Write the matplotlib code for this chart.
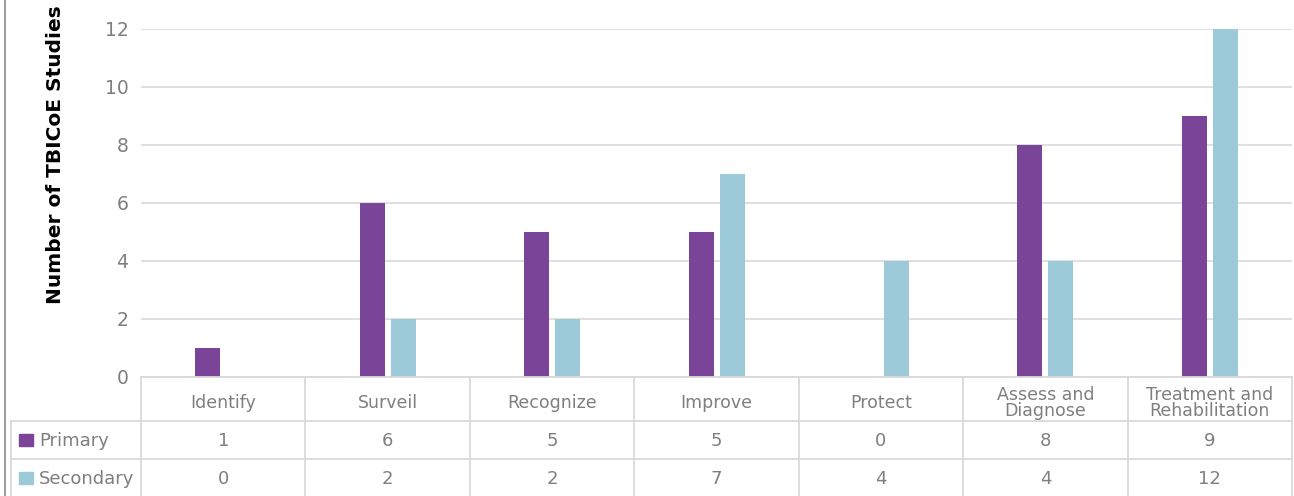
import matplotlib
matplotlib.use("Agg")
import matplotlib.pyplot as plt
from matplotlib.patches import Rectangle
import numpy as np

categories = ["Identify", "Surveil", "Recognize", "Improve", "Protect",
              "Assess and\nDiagnose", "Treatment and\nRehabilitation"]
primary = [1, 6, 5, 5, 0, 8, 9]
secondary = [0, 2, 2, 7, 4, 4, 12]
series_names = ["Primary", "Secondary"]
yticks = [0, 2, 4, 6, 8, 10, 12]

c_primary = "#7A4599"
c_secondary = "#9DCAD8"
grid_c = "#D9D9D9"
text_c = "#7F7F7F"

W, H = 1294, 496
fig = plt.figure(figsize=(W / 100, H / 100), dpi=100)
plt.rcParams['font.family'] = ['DejaVu Sans']

x0, x1 = 141, 1292
ybase, ytop = 377, 29
ax = fig.add_axes([x0 / W, (H - ybase) / H, (x1 - x0) / W, (ybase - ytop) / H])
n = len(categories)
ax.set_xlim(-0.5, n - 0.5)
ax.set_ylim(0, 12)
cw = (x1 - x0) / n  # px per category
bw = 25 / cw
gap = 6 / cw
xs = np.arange(n)
ax.bar(xs - (bw + gap) / 2, primary, width=bw, color=c_primary, zorder=3)
ax.bar(xs + (bw + gap) / 2, secondary, width=bw, color=c_secondary, zorder=3)
ax.set_yticks(yticks)
ax.set_yticklabels([str(v) for v in yticks], fontsize=13.5, color=text_c)
ax.tick_params(axis='y', length=0, pad=9)
ax.tick_params(axis='x', length=0, labelbottom=False)
for s in ax.spines.values():
    s.set_visible(False)
ax.grid(axis='y', color=grid_c, linewidth=1.2, zorder=0)
ax.set_axisbelow(True)
ax.set_ylabel("Number of TBICoE Studies", fontsize=14.5, fontweight='bold',
              color="#000000")
ax.yaxis.set_label_coords((65 - x0) / (x1 - x0), (ybase - 155) / (ybase - ytop))

# table overlay in pixel coords
tb = fig.add_axes([0, 0, 1, 1])
tb.set_xlim(0, W)
tb.set_ylim(H, 0)
tb.axis('off')
lc = grid_c
lw = 1.3
r0, r1, r2, r3 = 377, 421, 459, 496
left = 11
tb.plot([x0, x1], [r0, r0], color=lc, lw=lw)
tb.plot([left, x1], [r1, r1], color=lc, lw=lw)
tb.plot([left, x1], [r2, r2], color=lc, lw=lw)
tb.plot([left, left], [r1, r3], color=lc, lw=lw)
for i in range(n + 1):
    xv = x0 + i * cw
    tb.plot([xv, xv], [r0, r3], color=lc, lw=lw)
tb.plot([4.5, 4.5], [0, H], color="#8C8C8C", lw=1.2)

for i, cat in enumerate(categories):
    cx = x0 + (i + 0.5) * cw
    tb.text(cx, (r0 + r1) / 2 + 4, cat, ha='center', va='center', fontsize=12.5,
            color=text_c, linespacing=0.8)
    tb.text(cx, (r1 + r2) / 2 + 1, str(primary[i]), ha='center', va='center',
            fontsize=13, color=text_c)
    tb.text(cx, (r2 + r3) / 2 + 1, str(secondary[i]), ha='center', va='center',
            fontsize=13, color=text_c)

for (ya, yb), name, col in [((r1, r2), series_names[0], c_primary),
                            ((r2, r3), series_names[1], c_secondary)]:
    yc = (ya + yb) / 2
    tb.add_patch(Rectangle((19, yc - 6), 14, 12, color=col))
    tb.text(39, yc + 1, name, ha='left', va='center', fontsize=13, color=text_c)

fig.savefig("out.png", dpi=100)
